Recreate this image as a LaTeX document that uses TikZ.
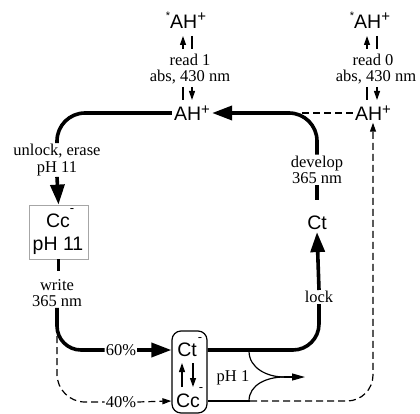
\documentclass[tikz,border=0pt]{standalone}
\usepackage{fontspec}
\setmainfont{Liberation Serif}
\newfontfamily\chemfont{Liberation Sans}
\usetikzlibrary{arrows.meta}
\newcommand\plusup{\raisebox{0.33em}{\fontsize{15}{15}\selectfont +}}
\newcommand\staron{\raisebox{0.45em}{\fontsize{11}{11}\selectfont *}}
\tikzset{
  lbl/.style={font=\fontsize{16.5}{16.5}\selectfont, inner sep=1pt, align=center},
  chem/.style={font=\chemfont\fontsize{19.5}{19.5}\selectfont, inner sep=2pt},
  minus/.style={font=\chemfont\fontsize{13}{13}\selectfont, inner sep=0pt, anchor=base},
  thickline/.style={line width=3.6pt},
  thinline/.style={line width=1.2pt},
  bigtip/.style={-{Triangle[length=20pt,width=14pt]}},
  midtip/.style={-{Triangle[length=13pt,width=7pt]}},
  smalltip/.style={-{Triangle[length=9pt,width=6pt]}},
  dashline/.style={line width=1.2pt, dash pattern=on 7pt off 4pt},
}
\begin{document}
\begin{tikzpicture}[x=1pt,y=-1pt]
\useasboundingbox (0,0) rectangle (420,414);

% read 1 group
\node[chem] (staA) at (186,20) {\staron AH\plusup};
\node[lbl] (readA) at (190,60) {read 1};
\node[lbl] (absA) at (190,77) {abs, 430 nm};
\node[chem] (ahA) at (192,113) {AH\plusup};
\draw[thinline,smalltip] (183,49) -- (183,36);
\draw[thinline] (192,36) -- (192,49);
\draw[thinline] (183,87) -- (183,100);
\draw[thinline,smalltip] (192,87) -- (192,100);

% read 0 group
\node[chem] (staB) at (370,20) {\staron AH\plusup};
\node[lbl] (readB) at (373,60) {read 0};
\node[lbl] (absB) at (376,77) {abs, 430 nm};
\node[chem] (ahB) at (373,113) {AH\plusup};
\draw[thinline,smalltip] (367,49) -- (367,36);
\draw[thinline] (377,36) -- (377,49);
\draw[thinline] (367,87) -- (367,100);
\draw[thinline,smalltip] (377,87) -- (377,100);

% left branch
\node[lbl] (unlock) at (57,160) {unlock, erase\\pH 11};
\node[draw=gray!70, line width=0.8pt, minimum width=59pt, minimum height=54pt, inner sep=0pt] (boxA) at (58.5,232) {};
\node[chem, inner sep=0pt] (ccA) at (58,221) {Cc};
\node[minus] (mA) at (72,212.5) {-};
\node[chem] (phA) at (58,246) {pH 11};
\node[lbl] (write) at (57,293) {write\\365 nm};
\node[lbl] (p60) at (121,350) {60\%};
\node[lbl] (p40) at (121,402) {40\%};

% Ct/Cc box
\node[draw, thinline, rounded corners=9pt, minimum width=35pt, minimum height=82pt, inner sep=0pt] (cbox) at (189.5,372) {};
\node[chem, inner sep=0pt] (ct) at (187,350) {Ct};
\node[minus] (mB) at (200,341.5) {-};
\node[chem, inner sep=0pt] (cc) at (188,401) {Cc};
\node[minus] (mC) at (201,391) {-};
\draw[thinline,smalltip] (182,387) -- (182,363);
\draw[thinline,smalltip] (193,363) -- (193,387);

% right branch
\node[lbl] (ph1) at (233,378) {pH 1};
\node[lbl] (lock) at (319,297) {lock};
\node[chem] (ctB) at (317,223) {Ct};
\node[lbl] (develop) at (317,170) {develop\\365 nm};

% main thick cycle
\draw[thickline,rounded corners=28pt] (ahA.west) -| (unlock.north);
\draw[thickline,bigtip] (unlock.south) -- (boxA.north);
\draw[thickline] (boxA.south) -- ++(0,12);
\draw[thickline,rounded corners=24pt] (write.south) |- (p60.west);
\draw[thickline,bigtip] (p60.east) -- (cbox.west |- ct.center);
\draw[thickline,rounded corners=26pt] (cbox.east |- ct.center) -| (lock.south);
\draw[thickline,bigtip] (lock.north) -- (ctB.south);
\draw[thickline] (develop.south) -- ++(0,15);
\draw[thickline,rounded corners=28pt,bigtip] (develop.north) |- (ahA.east);

% dashed path
\draw[dashline,rounded corners=28pt] (57,336) |- (p40.west);
\draw[dashline,smalltip] (p40.east) -- (cbox.west |- cc.center);
\draw[thinline] (cbox.east |- cc.center) -- (250,401);
\draw[dashline,rounded corners=26pt,smalltip] (250,401) -| (ahB.south);
\draw[dashline] (ahB.west) -- (300,113);

% pH 1 branch
\coordinate (merge) at (284,377);
\draw[thinline] (249,351) to[out=-90,in=180] (merge);
\draw[thinline] (249,401) to[out=90,in=180] (merge);
\draw[thinline,midtip] (merge) -- (305,377);
\end{tikzpicture}
\end{document}
